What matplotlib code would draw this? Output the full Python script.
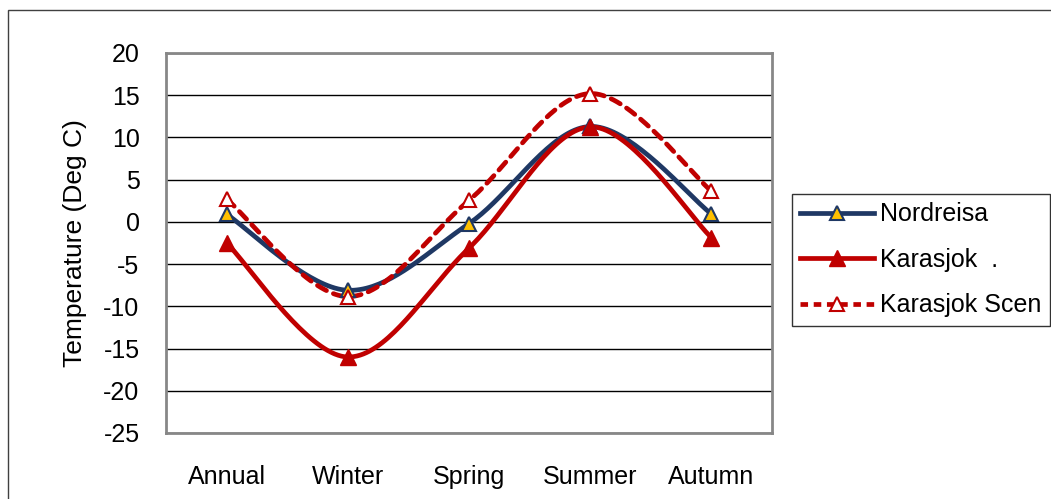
import numpy as np
import matplotlib
matplotlib.use("Agg")
import matplotlib.pyplot as plt
from matplotlib.patches import Rectangle

plt.rcParams['font.family'] = ['Liberation Sans', 'DejaVu Sans']

categories = ["Annual", "Winter", "Spring", "Summer", "Autumn"]
nordreisa = [0.9, -8.1, -0.2, 11.3, 0.95]
karasjok = [-2.5, -16.0, -3.1, 11.25, -1.85]
karasjok_scen = [2.7, -8.85, 2.55, 15.2, 3.65]
yticks = [20, 15, 10, 5, 0, -5, -10, -15, -20, -25]


def excel_smooth(xs, ys, n=40):
    P = np.column_stack([xs, ys]).astype(float)
    m = len(P)
    out = [P[0]]
    for i in range(m - 1):
        p0 = P[i - 1] if i > 0 else P[i]
        p1 = P[i]
        p2 = P[i + 1]
        p3 = P[i + 2] if i + 2 < m else P[i + 1]
        c1 = p1 + (p2 - p0) / 6.0
        c2 = p2 - (p3 - p1) / 6.0
        t = np.linspace(0, 1, n)[1:, None]
        seg = ((1 - t) ** 3) * p1 + 3 * ((1 - t) ** 2) * t * c1 + 3 * (1 - t) * t ** 2 * c2 + t ** 3 * p2
        out.extend(seg)
    out = np.array(out)
    return out[:, 0], out[:, 1]


W, H = 1051, 499
fig = plt.figure(figsize=(W / 100, H / 100), dpi=100)
ax = fig.add_axes([166 / W, 1 - 433 / H, (772 - 166) / W, (433 - 53) / H])

x = np.arange(len(categories))
navy = '#1F3864'
red = '#C00000'
lw = 3.4
ms = 10.5
fs = 18

# Nordreisa
sx, sy = excel_smooth(x, nordreisa)
ax.plot(sx, sy, color=navy, lw=lw, solid_capstyle='round', zorder=3)
ax.plot(x, nordreisa, ls='none', marker='^', ms=ms, mfc='#FFC000', mec=navy, mew=1.5, zorder=5)
# Karasjok
sx, sy = excel_smooth(x, karasjok)
ax.plot(sx, sy, color=red, lw=lw, solid_capstyle='round', zorder=3)
ax.plot(x, karasjok, ls='none', marker='^', ms=ms + 1, mfc=red, mec=red, mew=1.0, zorder=5)
# Karasjok Scen
sx, sy = excel_smooth(x, karasjok_scen)
ax.plot(sx, sy, color=red, lw=lw, ls=(0, (2.2, 1.6)), dash_capstyle='round', zorder=4)
ax.plot(x, karasjok_scen, ls='none', marker='^', ms=ms, mfc='white', mec=red, mew=1.5, zorder=5)

# legend proxies
h1, = ax.plot([], [], color=navy, lw=lw, marker='^', ms=ms, mfc='#FFC000', mec=navy, mew=1.5)
h2, = ax.plot([], [], color=red, lw=lw, marker='^', ms=ms + 1, mfc=red, mec=red)
h3, = ax.plot([], [], color=red, lw=lw, ls=(0, (1.6, 1.2)), marker='^', ms=ms, mfc='white', mec=red, mew=1.5)

ax.set_xlim(-0.5, len(categories) - 0.5)
ax.set_ylim(-25, 20)
ax.set_yticks(yticks)
ax.set_yticklabels([str(v) for v in yticks])
ax.set_xticks(x)
ax.set_xticklabels(categories)
ax.tick_params(axis='both', length=0, labelsize=fs, colors='black')
ax.tick_params(axis='y', pad=19)
ax.tick_params(axis='x', pad=23)
ax.grid(axis='y', color='black', lw=1.0, zorder=1)
ax.set_axisbelow(True)
for s in ax.spines.values():
    s.set_color('#878787')
    s.set_linewidth(2.0)
ax.set_ylabel('Temperature (Deg C)', fontsize=19, labelpad=12)

leg = fig.legend([h1, h2, h3], ['Nordreisa', 'Karasjok  .', 'Karasjok Scen'],
                 loc='upper left', bbox_to_anchor=(792 / W, 1 - 194 / H),
                 bbox_transform=fig.transFigure, fontsize=fs, frameon=True,
                 fancybox=False, edgecolor='black', handlelength=2.95,
                 handletextpad=0.25, labelspacing=0.86, borderpad=0.33,
                 borderaxespad=0)
leg.get_frame().set_linewidth(1.0)

# outer chart border
fig.patches.append(Rectangle((8 / W, -0.1), 1.2, 1 - 10 / H + 0.1, transform=fig.transFigure,
                             fill=False, edgecolor='#404040', lw=1.0))

fig.savefig('out.png', dpi=100)
